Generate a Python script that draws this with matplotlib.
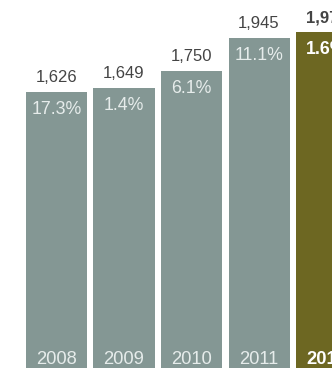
import matplotlib
matplotlib.use("Agg")
import matplotlib.pyplot as plt

years = ["2008", "2009", "2010", "2011", "2012"]
values = [1626, 1649, 1750, 1945, 1976]
growth = ["17.3%", "1.4%", "6.1%", "11.1%", "1.6%"]
highlight = [False, False, False, False, True]

gray = "#849794"
olive = "#6d6722"

plt.rcParams['font.family'] = ['Liberation Sans', 'DejaVu Sans']

fig = plt.figure(figsize=(3.32, 3.68), dpi=100)
ax = fig.add_axes([0, 0, 1, 1])
x = list(range(len(years)))
colors = [olive if h else gray for h in highlight]
ax.bar(x, values, width=0.904, color=colors, linewidth=0)

for xi, v, g, y, h in zip(x, values, growth, years, highlight):
    w = 'bold' if h else 'normal'
    ax.annotate(f"{v:,}", (xi, v), xytext=(0, 5), textcoords='offset points',
                ha='center', va='bottom', fontsize=12, color='#444444', fontweight=w)
    ax.annotate(g, (xi, v), xytext=(0, -6.5), textcoords='offset points',
                ha='center', va='top', fontsize=12.8, color='#e6eceb' if not h else 'white',
                fontweight=w)
    ax.annotate(y, (xi, 0), xytext=(0, 0.3), textcoords='offset points',
                ha='center', va='bottom', fontsize=13.2, color='#e6eceb' if not h else 'white',
                fontweight=w)

ax.set_xlim(-0.837, 4.081)
ax.set_ylim(0, 2167)
ax.axis('off')
fig.savefig("out.png", dpi=100)
